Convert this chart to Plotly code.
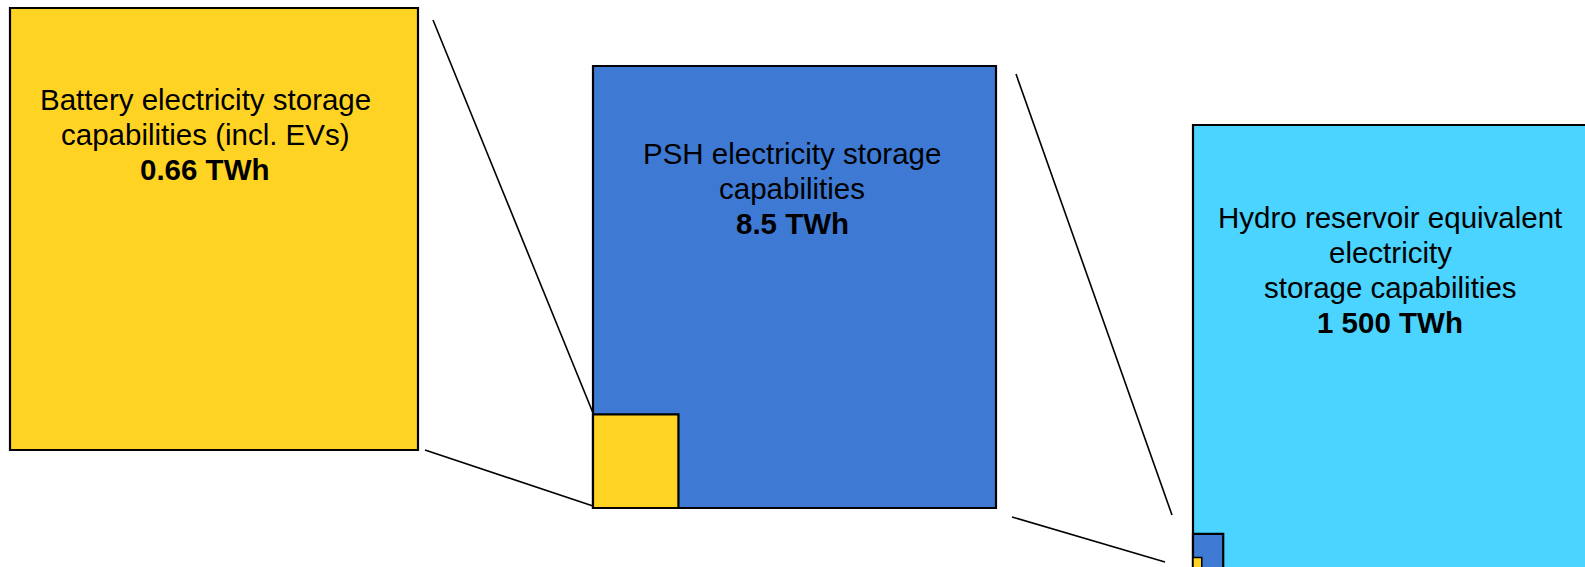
import plotly.graph_objects as go

# ---- data ----
names = ["Battery electricity storage capabilities (incl. EVs)",
         "PSH electricity storage capabilities",
         "Hydro reservoir equivalent electricity storage capabilities"]
values_twh = [0.66, 8.5, 1500]
value_labels = ["0.66 TWh", "8.5 TWh", "1 500 TWh"]
label_lines = [
    ["Battery electricity storage", "capabilities (incl. EVs)"],
    ["PSH electricity storage", "capabilities"],
    ["Hydro reservoir equivalent", "electricity", "storage capabilities"],
]

# ---- styles / layout constants ----
colors = ["#FFD324", "#3E7AD3", "#4AD4FF"]
W, H = 1585, 567
panels = [  # x0, y0, x1, y1 in page pixels (last one runs off the page)
    (10, 8, 418, 450),
    (593, 66, 996, 508),
    (1193, 125, 1596, 567),
]
text_x = [205, 792, 1390]
first_baseline = [110, 164, 228]
line_gap = 35
inset_frac = [0.212, 0.075]    # size of previous box drawn inside next box
inner_inset_frac = 0.29        # yellow inside the small blue inset in hydro box
zoom_lines = [
    ((433, 20), (593, 413)),
    ((425, 450), (593, 506)),
    ((1016, 74), (1172, 515)),
    ((1012, 517), (1165, 562)),
]
FONT = "Liberation Sans, Arial, sans-serif"
FS = 29.5

fig = go.Figure()
shapes = []

def rect(x0, y0, x1, y1, color, lw=2.2):
    shapes.append(dict(type="rect", xref="x", yref="y", x0=x0, y0=y0, x1=x1, y1=y1,
                       fillcolor=color, line=dict(color="black", width=lw), layer="above"))

for i, (x0, y0, x1, y1) in enumerate(panels):
    if i == 2:
        # big box continues beyond the page edges: only left/top borders visible
        rect(x0, y0, x1 + 30, y1 + 30, colors[i])
    else:
        rect(x0, y0, x1, y1, colors[i])
    if i >= 1:
        f = inset_frac[i - 1]
        w = (x1 - x0) * f
        h = (y1 - y0) * f
        rect(x0, y1 - h, x0 + w, y1 + (30 if i == 2 else 0), colors[i - 1])
        if i == 2:
            f2 = inner_inset_frac
            rect(x0, y1 - h * f2, x0 + w * f2, y1 + 30, colors[0], lw=1.5)

for (a, b) in zoom_lines:
    shapes.append(dict(type="line", xref="x", yref="y", x0=a[0], y0=a[1], x1=b[0], y1=b[1],
                       line=dict(color="black", width=1.6), layer="above"))

annotations = []
for i in range(3):
    lines = label_lines[i] + [value_labels[i]]
    for j, t in enumerate(lines):
        bold = (j == len(lines) - 1)
        baseline = first_baseline[i] + j * line_gap
        annotations.append(dict(
            x=text_x[i], y=baseline - FS * 0.36, xref="x", yref="y",
            text=f"<b>{t}</b>" if bold else t, showarrow=False,
            xanchor="center", yanchor="middle",
            font=dict(family=FONT, size=FS, color="black")))

# invisible trace to anchor axes
fig.add_trace(go.Scatter(x=[0, W], y=[0, H], mode="markers",
                         marker=dict(opacity=0), hoverinfo="skip", showlegend=False))

fig.update_layout(
    width=W, height=H, margin=dict(l=0, r=0, t=0, b=0),
    paper_bgcolor="white", plot_bgcolor="white",
    xaxis=dict(range=[0, W], visible=False, fixedrange=True),
    yaxis=dict(range=[H, 0], visible=False, fixedrange=True),
    shapes=shapes, annotations=annotations, showlegend=False,
    hovermode=False,
)
fig.write_html("out.html", config={"displayModeBar": False, "staticPlot": True},
               post_script="document.body.style.margin='0';document.body.style.overflow='hidden';")
